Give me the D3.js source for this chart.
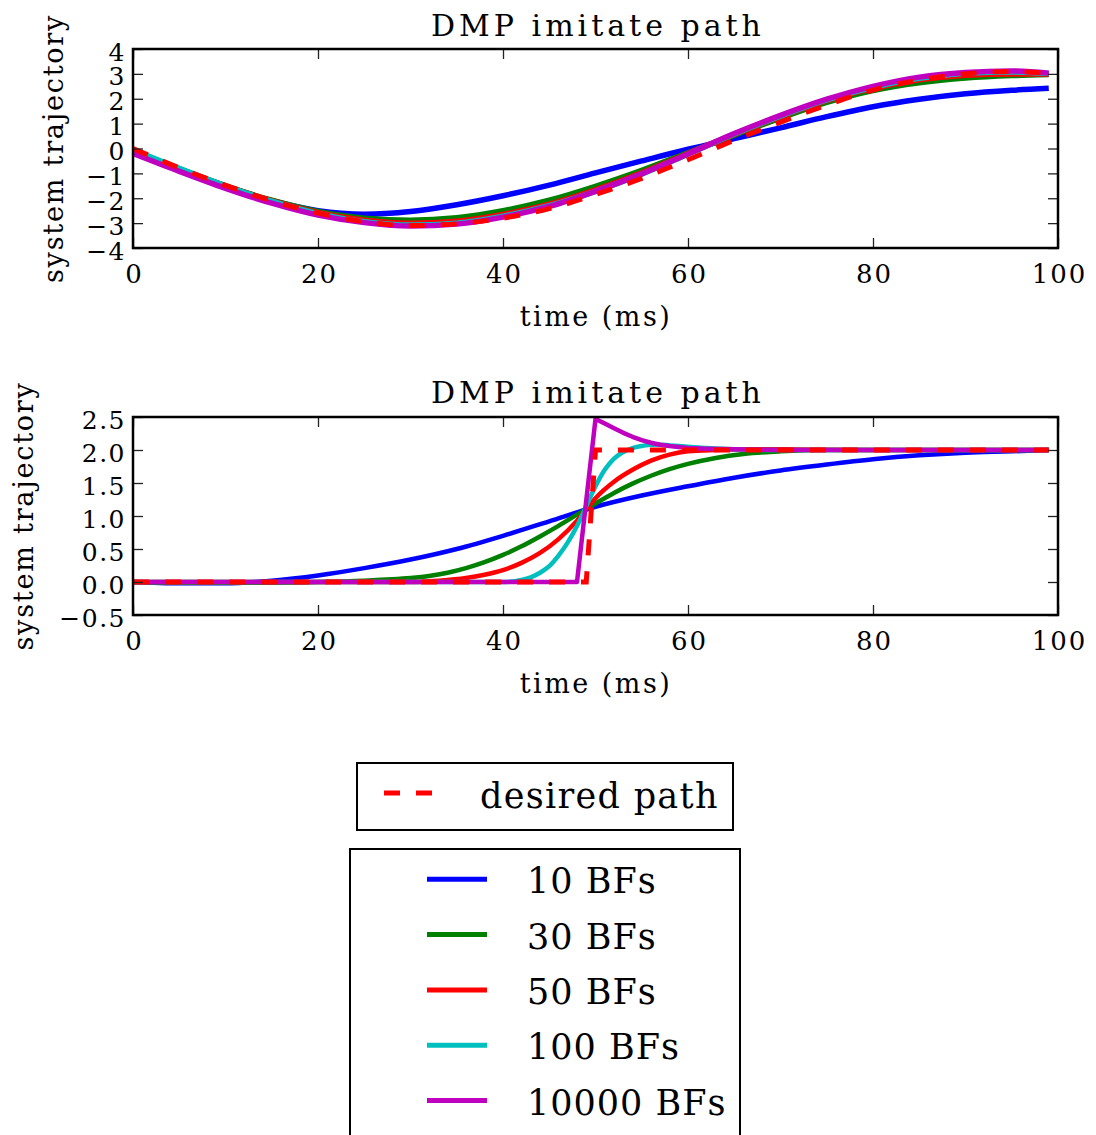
<!DOCTYPE html>
<html><head><meta charset="utf-8">
<script src="https://cdn.jsdelivr.net/npm/d3@7/dist/d3.min.js"></script>
<style>body{margin:0;background:#fff}</style>
</head><body>
<svg id="chart" width="1096" height="1135"></svg>
<script>
// ---------- data ----------
const chartTitle = "DMP imitate path";
const xLabel = "time (ms)";
const yLabel = "system trajectory";
const seriesNames = ["10 BFs", "30 BFs", "50 BFs", "100 BFs", "10000 BFs"];
const seriesColors = ["#0000ff", "#008000", "#ff0000", "#00bfbf", "#bf00bf"];
const desiredName = "desired path";
const desiredColor = "#ff0000";
const xTicks = [0, 20, 40, 60, 80, 100];
const yTicksTop = [4, 3, 2, 1, 0, -1, -2, -3, -4];
const yTicksBottom = [2.5, 2.0, 1.5, 1.0, 0.5, 0.0, -0.5];

// top panel (sampled every 5 ms)
const tTop = [0, 5, 10, 15, 20, 25, 30, 35, 40, 45, 50, 55, 60, 65, 70, 75, 80, 85, 90, 95, 99];
const topDesired = [0, -0.78, -1.48, -2.1, -2.6, -2.94, -3.1, -3.03, -2.8, -2.42, -1.85, -1.2, -0.45, 0.33, 1.06, 1.75, 2.35, 2.75, 3.0, 3.1, 3.02];
const top10 = [-0.12, -0.88, -1.55, -2.1, -2.5, -2.64, -2.53, -2.26, -1.9, -1.47, -0.98, -0.5, -0.03, 0.4, 0.83, 1.28, 1.68, 1.98, 2.2, 2.34, 2.42];
const top30 = [-0.1, -0.83, -1.5, -2.08, -2.53, -2.8, -2.88, -2.78, -2.5, -2.08, -1.52, -0.88, -0.17, 0.54, 1.22, 1.85, 2.33, 2.64, 2.83, 2.93, 2.97];
const top50 = [-0.08, -0.82, -1.5, -2.1, -2.58, -2.88, -3.0, -2.92, -2.65, -2.24, -1.66, -0.98, -0.2, 0.57, 1.28, 1.92, 2.42, 2.76, 2.94, 3.0, 3.0];
const top100 = [-0.05, -0.8, -1.5, -2.12, -2.62, -2.94, -3.08, -3.0, -2.72, -2.3, -1.72, -1.03, -0.23, 0.58, 1.3, 1.95, 2.46, 2.82, 3.02, 3.08, 3.02];
const top10000 = [-0.2, -0.92, -1.6, -2.2, -2.68, -2.98, -3.12, -3.04, -2.76, -2.33, -1.72, -1.02, -0.22, 0.6, 1.33, 1.98, 2.5, 2.87, 3.06, 3.12, 3.03];

// bottom panel
const botDesiredT = [0, 49, 50, 99];
const botDesired = [0, 0, 2, 2];
const bot10T = [0, 5, 10, 15, 20, 25, 30, 35, 40, 45, 50, 55, 60, 65, 70, 75, 80, 85, 90, 95, 99];
const bot10 = [0, -0.02, -0.02, 0.02, 0.1, 0.21, 0.34, 0.5, 0.7, 0.92, 1.14, 1.31, 1.45, 1.58, 1.69, 1.78, 1.86, 1.92, 1.96, 1.98, 2.0];
const bot30T = [0, 5, 10, 15, 20, 25, 28, 30, 32, 34, 36, 38, 40, 42, 44, 46, 48, 50, 52, 54, 56, 58, 60, 63, 66, 70, 75, 80, 90, 99];
const bot30 = [0, -0.01, -0.01, -0.01, 0.0, 0.02, 0.04, 0.06, 0.09, 0.14, 0.21, 0.3, 0.41, 0.54, 0.69, 0.85, 1.02, 1.19, 1.35, 1.49, 1.61, 1.71, 1.79, 1.88, 1.94, 1.98, 2.0, 2.0, 2.0, 2.0];
const bot50T = [0, 10, 20, 30, 33, 36, 38, 40, 42, 44, 46, 48, 49, 50, 52, 54, 56, 58, 60, 63, 66, 70, 80, 90, 99];
const bot50 = [0, 0, 0, 0, 0.02, 0.06, 0.11, 0.18, 0.29, 0.44, 0.65, 0.93, 1.1, 1.27, 1.52, 1.7, 1.84, 1.93, 1.98, 2.0, 2.01, 2.01, 2.0, 2.0, 2.0];
const bot100T = [0, 10, 20, 30, 38, 40, 42, 43, 44, 45, 46, 47, 48, 49, 50, 51, 52, 53, 54, 55, 56, 57, 58, 60, 62, 65, 70, 80, 90, 99];
const bot100 = [0, 0, 0, 0, 0, 0.0, 0.03, 0.07, 0.14, 0.24, 0.4, 0.6, 0.85, 1.15, 1.45, 1.7, 1.87, 1.97, 2.03, 2.06, 2.08, 2.08, 2.07, 2.05, 2.03, 2.01, 2.0, 2.0, 2.0, 2.0];
const bot10000T = [0, 10, 20, 30, 40, 48, 50, 51, 52, 53, 54, 55, 56, 57, 58, 60, 62, 65, 70, 80, 90, 99];
const bot10000 = [0, 0, 0, 0, 0, 0, 2.47, 2.4, 2.33, 2.26, 2.2, 2.15, 2.11, 2.08, 2.06, 2.03, 2.02, 2.01, 2.0, 2.0, 2.0, 2.0];

// ---------- drawing ----------
const FONT = "'DejaVu Serif', serif";
const svg = d3.select("#chart");
svg.append("rect").attr("width", 1096).attr("height", 1135).attr("fill", "#fff");

const zip = (xs, ys) => xs.map((x, i) => [x, ys[i]]);

function panel(cfg) {
  const x = d3.scaleLinear().domain([0, 100]).range([133, 1058]);
  const y = d3.scaleLinear().domain(cfg.yDomain).range([cfg.bottom, cfg.top]);
  const g = svg.append("g");

  // lines
  const lineSmooth = d3.line().x(d => x(d[0])).y(d => y(d[1])).curve(d3.curveMonotoneX);
  const lineLin = d3.line().x(d => x(d[0])).y(d => y(d[1]));
  cfg.series.forEach((s, i) => {
    g.append("path").attr("d", (s.linear ? lineLin : lineSmooth)(s.data))
      .attr("fill", "none").attr("stroke", seriesColors[i]).attr("stroke-width", cfg.lw)
      .attr("stroke-linejoin", "round").attr("stroke-linecap", "butt");
  });
  g.append("path").attr("d", (cfg.desiredLinear ? lineLin : lineSmooth)(cfg.desired))
    .attr("fill", "none").attr("stroke", desiredColor).attr("stroke-width", 5)
    .attr("stroke-dasharray", "16,16");

  // axes with inward ticks on all sides
  const tickStyle = sel => {
    sel.select(".domain").remove();
    sel.selectAll(".tick line").attr("stroke", "#222").attr("stroke-width", 1.3);
  };
  const xb = g.append("g").attr("transform", `translate(0,${cfg.bottom})`)
    .call(d3.axisBottom(x).tickValues(xTicks).tickSize(-10).tickFormat(d3.format("d")));
  tickStyle(xb);
  xb.selectAll(".tick text").attr("y", cfg.xTickBaseline - cfg.bottom).attr("dy", 0)
    .attr("font-family", FONT).attr("font-size", 26).attr("fill", "#000")
    .attr("letter-spacing", "2px").attr("dx", 1);
  const xt = g.append("g").attr("transform", `translate(0,${cfg.top})`)
    .call(d3.axisTop(x).tickValues(xTicks).tickSize(-10).tickFormat(""));
  tickStyle(xt);
  const yl = g.append("g").attr("transform", "translate(133,0)")
    .call(d3.axisLeft(y).tickValues(cfg.yTicks).tickSize(-10).tickFormat(cfg.yFormat));
  tickStyle(yl);
  yl.selectAll(".tick text").attr("x", -7).attr("dy", 0).attr("y", 11)
    .attr("font-family", FONT).attr("font-size", 25).attr("fill", "#000")
    .attr("letter-spacing", "1.5px").attr("text-anchor", "end");
  const yr = g.append("g").attr("transform", "translate(1058,0)")
    .call(d3.axisRight(y).tickValues(cfg.yTicks).tickSize(-10).tickFormat(""));
  tickStyle(yr);

  // frame
  g.append("rect").attr("x", 133).attr("y", cfg.top).attr("width", 1058 - 133)
    .attr("height", cfg.bottom - cfg.top).attr("fill", "none")
    .attr("stroke", "#000").attr("stroke-width", 2.5);

  // title & labels
  g.append("text").attr("x", 598).attr("y", cfg.titleBaseline).attr("text-anchor", "middle")
    .attr("font-family", FONT).attr("font-size", 30).attr("letter-spacing", "4px").text(chartTitle);
  g.append("text").attr("x", 596).attr("y", cfg.xLabelBaseline).attr("text-anchor", "middle")
    .attr("font-family", FONT).attr("font-size", 27).attr("letter-spacing", "2.5px").text(xLabel);
  g.append("text").attr("transform", `translate(${cfg.yLabelX},${(cfg.top + cfg.bottom) / 2}) rotate(-90)`)
    .attr("text-anchor", "middle").attr("font-family", FONT).attr("font-size", 27)
    .attr("letter-spacing", "1.8px").text(yLabel);
}

const minusFmt = f => d => f(d).replace("-", "\u2212");

panel({
  top: 49, bottom: 248, yDomain: [-4, 4], yTicks: yTicksTop, lw: 5.5,
  yFormat: minusFmt(d3.format("d")),
  series: [top10, top30, top50, top100, top10000].map(v => ({ data: zip(tTop, v) })),
  desired: zip(tTop, topDesired),
  titleBaseline: 36, xTickBaseline: 283, xLabelBaseline: 326, yLabelX: 63
});

panel({
  top: 417, bottom: 615, yDomain: [-0.5, 2.5], yTicks: yTicksBottom, lw: 4.5,
  yFormat: minusFmt(d3.format(".1f")),
  series: [
    { data: zip(bot10T, bot10) },
    { data: zip(bot30T, bot30) },
    { data: zip(bot50T, bot50) },
    { data: zip(bot100T, bot100) },
    { data: zip(bot10000T, bot10000), linear: true }
  ],
  desired: zip(botDesiredT, botDesired), desiredLinear: true,
  titleBaseline: 403, xTickBaseline: 650, xLabelBaseline: 693, yLabelX: 33
});

// ---------- legends ----------
const lg1 = svg.append("g");
lg1.append("rect").attr("x", 357).attr("y", 763).attr("width", 376).attr("height", 67)
  .attr("fill", "#fff").attr("stroke", "#000").attr("stroke-width", 2);
lg1.append("line").attr("x1", 384).attr("x2", 432).attr("y1", 793).attr("y2", 793)
  .attr("stroke", desiredColor).attr("stroke-width", 5).attr("stroke-dasharray", "16,16");
lg1.append("text").attr("x", 480).attr("y", 808).attr("font-family", FONT)
  .attr("font-size", 35).attr("letter-spacing", "1.3px").text(desiredName);

const lg2 = svg.append("g");
lg2.append("rect").attr("x", 350).attr("y", 849).attr("width", 390).attr("height", 320)
  .attr("fill", "#fff").attr("stroke", "#000").attr("stroke-width", 2);
const ly = d3.scaleLinear().domain([0, 1]).range([879.3, 934.6]);
seriesNames.forEach((name, i) => {
  lg2.append("line").attr("x1", 427).attr("x2", 487).attr("y1", ly(i)).attr("y2", ly(i))
    .attr("stroke", seriesColors[i]).attr("stroke-width", 5);
  lg2.append("text").attr("x", 527).attr("y", ly(i) + 14).attr("font-family", FONT)
    .attr("font-size", 35).attr("letter-spacing", "1px").text(name);
});
</script>
</body></html>
